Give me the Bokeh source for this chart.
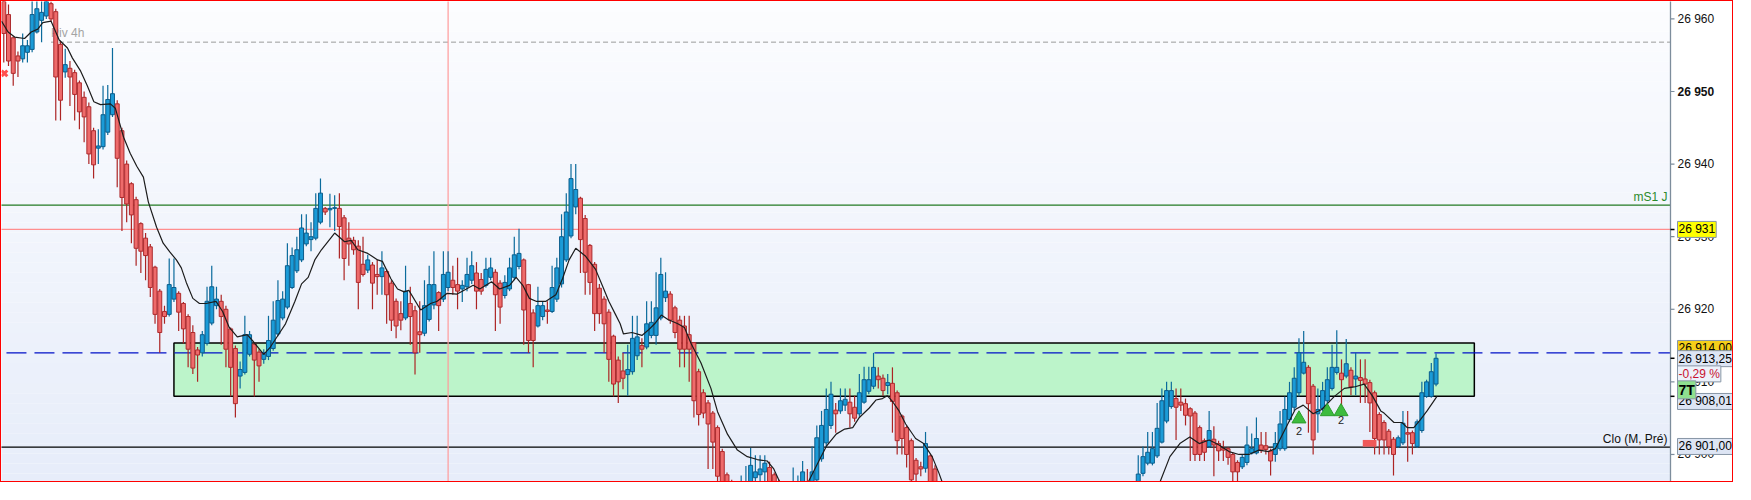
import pandas as pd
from bokeh.plotting import figure
from bokeh.models import Range1d
from bokeh.core.properties import value
from bokeh.embed import file_html
from bokeh.resources import INLINE

BASE = 26900  # all prices below are points above 26 900

# OHLC per bar (None = bar entirely below the visible price range)
opens = [
    63.5, 60.6, 57.4, 54.9, 54.5, 55.4, 55.8, 58.2, 59.8, 60.4,
    62.1, 61.0, 56.5, 52.7, 53.2, 52.6, 51.2, 49.2, 47.9, 44.6,
    42.2, 42.4, 44.4, 46.8, 48.3, 44.6, 40.0, 37.3, 35.1, 31.8,
    29.8, 28.6, 25.8, 22.5, 19.7, 19.3, 21.4, 22.2, 20.8, 19.0,
    16.8, 14.4, 14.0, 15.3, 18.1, 20.5, 21.1, 20.0, 17.3, 14.6,
    10.8, 11.3, 13.8, 15.2, 14.1, 13.1, 13.5, 14.6, 16.6, 18.8,
    20.3, 23.0, 25.3, 26.8, 29.0, 29.6, 29.8, 32.0, 33.9, 33.7,
    33.9, 33.9, 32.6, 29.8, 29.5, 28.7, 26.2, 25.4, 26.1, 24.8,
    24.5, 25.2, 23.6, 21.1, 19.4, 18.8, 20.8, 19.8, 16.9, 16.7,
    18.6, 20.6, 22.3, 21.4, 23.0, 24.0, 23.4, 22.8, 23.1, 24.0,
    25.0, 24.1, 23.3, 24.4, 25.1, 23.6, 21.9, 22.8, 24.4, 25.9,
    26.8, 23.4, 19.5, 17.7, 19.0, 19.9, 19.7, 21.4, 23.5, 26.8,
    30.1, 34.1, 35.3, 32.5, 28.8, 26.2, 22.9, 21.4, 19.6, 16.3,
    13.0, 11.5, 11.0, 11.4, 13.6, 15.0, 14.8, 16.4, 16.4, 18.8,
    21.6, 22.1, 20.2, 18.5, 17.7, 16.5, 15.4, 11.4, 8.5, 7.1,
    5.7, 3.7, 0.4, -2.8, -4.0, None, -9.0, -7.0, -5.0, -3.2,
    -2.8, -2.4, -1.8, -2.8, -3.9, None, None, -7.0, -5.0, -5.0,
    -5.0, -4.1, -3.5, -0.6, 1.6, 4.0, 6.1, 6.0, 6.8, 7.2,
    6.5, 5.6, 7.2, 8.7, 9.4, 10.8, 10.5, 9.5, 9.8, 8.5,
    5.3, 3.7, 1.9, -0.8, -1.7, -1.9, -0.2, -2.0, None, None,
    None, None, None, None, None, None, None, None, None, None,
    None, None, None, None, None, None, None, None, None, None,
    None, None, None, None, None, None, None, None, None, None,
    None, None, None, None, None, None, None, None, None, -8.0,
    -5.0, -2.6, -1.2, -1.2, -0.2, 1.7, 4.6, 6.6, 7.7, 7.2,
    7.0, 6.3, 5.7, 3.7, 1.9, 1.1, 2.1, 1.5, 0.8, 0.8,
    0.0, -1.1, -1.7, -1.1, 0.2, 0.2, 1.3, 1.2, 0.5, 0.0,
    0.8, 0.8, 4.8, 6.5, 8.5, 11.2, 12.0, 9.4, 5.6, 6.3,
    7.4, 9.1, 11.3, 11.2, 10.8, 11.6, 10.4, 10.6, 10.4, 9.9,
    8.5, 5.5, 4.4, 3.2, 2.1, 1.1, 1.6, 3.0, 3.0, 1.1,
    3.3, 8.0, 8.0, 9.7,
]
highs = [
    64.5, 62.0, 57.6, 55.5, 58.0, 57.1, 63.0, 63.5, 62.8, 64.0,
    62.4, 61.4, 57.0, 55.9, 54.2, 53.0, 51.5, 50.0, 48.5, 45.0,
    44.8, 50.8, 50.9, 56.0, 48.8, 45.0, 40.5, 37.5, 35.5, 32.0,
    30.5, 29.0, 26.0, 22.8, 20.5, 27.0, 27.0, 22.5, 21.0, 19.3,
    17.8, 14.8, 17.0, 23.1, 26.0, 23.1, 22.0, 20.5, 17.5, 15.0,
    12.8, 19.1, 17.0, 15.5, 14.5, 14.5, 19.1, 21.1, 24.0, 22.5,
    29.1, 28.5, 30.0, 33.1, 33.1, 32.0, 36.0, 38.0, 34.1, 35.9,
    35.7, 36.0, 33.0, 32.0, 30.0, 29.5, 30.0, 27.5, 26.5, 26.8,
    28.0, 25.5, 24.0, 21.5, 21.1, 26.0, 23.1, 20.5, 21.1, 24.0,
    26.0, 28.0, 22.5, 28.0, 28.0, 26.0, 27.1, 24.0, 27.1, 28.0,
    26.5, 25.0, 27.1, 27.1, 25.5, 24.0, 24.7, 27.1, 30.0, 31.1,
    27.0, 23.5, 20.0, 23.1, 21.0, 21.1, 26.0, 27.1, 33.1, 36.0,
    40.0, 40.0, 35.5, 33.0, 29.0, 26.5, 23.5, 21.8, 20.0, 16.5,
    13.5, 14.0, 15.1, 19.1, 19.1, 16.0, 21.1, 21.1, 25.1, 27.1,
    25.1, 22.5, 20.5, 19.1, 19.1, 19.1, 15.5, 11.8, 9.0, 7.5,
    6.0, 4.0, 0.8, -2.5, -3.5, None, -2.9, -1.6, 0.9, -0.1,
    -0.1, -0.1, -1.0, -2.5, -3.5, None, None, -1.8, -2.9, -0.9,
    -2.0, 1.1, 4.0, 6.0, 9.1, 10.0, 7.1, 9.1, 9.1, 9.1,
    8.1, 11.1, 12.1, 12.1, 14.0, 12.0, 11.0, 11.1, 12.0, 8.8,
    5.5, 4.0, 2.2, -0.5, -1.0, 3.1, 0.0, -1.5, None, None,
    None, None, None, None, None, None, None, None, None, None,
    None, None, None, None, None, None, None, None, None, None,
    None, None, None, None, None, None, None, None, None, None,
    None, None, None, None, None, None, None, None, None, -4.0,
    -0.1, 1.1, 3.1, 3.1, 7.1, 9.1, 10.0, 10.0, 9.1, 9.1,
    7.7, 6.5, 6.0, 4.0, 2.2, 6.0, 3.9, 1.9, 1.9, 1.0,
    0.3, -0.8, 0.0, 3.9, 2.9, 5.1, 3.1, 3.1, 0.8, 3.1,
    6.0, 8.0, 10.0, 12.0, 16.0, 17.0, 12.3, 9.7, 9.1, 10.0,
    12.0, 15.1, 17.1, 13.1, 15.9, 12.0, 14.0, 13.1, 13.1, 10.3,
    8.8, 5.8, 4.7, 3.5, 2.4, 2.6, 6.0, 6.0, 3.3, 4.8,
    10.0, 10.3, 12.6, 13.9,
]
lows = [
    54.0, 53.5, 50.8, 52.0, 54.0, 54.0, 55.4, 58.0, 56.8, 60.0,
    59.6, 46.0, 46.0, 51.9, 48.0, 46.0, 44.8, 43.0, 40.0, 38.0,
    40.0, 42.0, 44.0, 46.5, 36.8, 30.8, 32.0, 29.1, 26.0, 25.0,
    24.0, 21.7, 18.0, 14.0, 18.0, 19.0, 21.0, 17.0, 15.3, 12.0,
    11.1, 10.0, 13.5, 15.0, 17.8, 20.0, 15.1, 12.0, 8.0, 5.1,
    9.1, 11.0, 13.5, 8.0, 10.0, 12.5, 13.0, 14.3, 16.3, 18.5,
    20.0, 22.8, 25.0, 26.5, 28.7, 28.0, 29.5, 31.7, 33.0, 31.3,
    30.8, 27.0, 24.0, 26.0, 27.5, 20.0, 24.5, 25.0, 20.0, 22.0,
    22.0, 18.0, 17.0, 16.0, 17.1, 18.5, 15.1, 11.0, 14.0, 16.3,
    18.3, 20.0, 17.0, 21.0, 22.5, 22.0, 20.0, 21.0, 22.5, 23.5,
    20.0, 22.0, 23.0, 24.0, 17.0, 18.0, 21.5, 22.5, 24.0, 25.5,
    15.1, 14.0, 12.0, 17.5, 18.5, 18.0, 19.5, 21.0, 23.0, 26.5,
    29.8, 33.1, 25.0, 22.0, 22.0, 17.0, 18.0, 14.0, 10.0, 8.0,
    7.1, 9.0, 8.1, 11.0, 13.0, 12.0, 14.5, 16.0, 15.1, 18.5,
    21.0, 18.0, 16.0, 12.0, 12.0, 10.0, 5.1, 4.0, 5.0, -2.0,
    -2.0, -5.0, -8.0, -9.0, -10.0, None, -10.0, -8.0, -7.0, -5.0,
    -4.0, -4.0, -6.0, -7.0, -9.0, None, None, -8.0, -7.0, -6.0,
    -9.0, -5.0, -4.0, -1.0, 1.0, 3.5, 3.0, 5.6, 6.0, 3.7,
    4.5, 5.2, 7.0, 8.3, 9.0, 9.1, 8.1, 8.3, 3.0, 0.0,
    0.0, -1.8, -4.1, -4.1, -3.0, -2.5, -6.0, -7.0, None, None,
    None, None, None, None, None, None, None, None, None, None,
    None, None, None, None, None, None, None, None, None, None,
    None, None, None, None, None, None, None, None, None, None,
    None, None, None, None, None, None, None, None, None, -9.0,
    -6.0, -3.0, -1.5, -1.5, -0.5, 1.5, 4.3, 6.3, 2.0, 6.0,
    4.0, -0.9, -0.9, -0.9, -0.9, 0.9, -3.0, -0.9, -0.9, -1.4,
    -4.0, -4.1, -2.0, -1.5, 0.0, 0.0, 0.2, 0.0, -2.9, -1.0,
    0.5, 0.5, 4.5, 6.0, 8.0, 11.0, 3.0, 0.0, 3.0, 6.0,
    7.0, 8.8, 11.0, 6.4, 10.5, 8.2, 8.2, 7.1, 7.1, 3.1,
    0.0, 0.0, 0.0, 0.0, -2.9, 0.9, 1.3, -1.0, 0.0, 0.9,
    3.0, 7.8, 7.8, 9.4,
]
closes = [
    58.0, 54.2, 52.5, 54.2, 56.3, 56.3, 60.6, 61.4, 60.9, 63.0,
    60.0, 52.0, 48.8, 53.7, 52.0, 49.6, 47.2, 46.5, 41.4, 39.9,
    42.5, 46.8, 48.9, 49.7, 40.8, 35.4, 34.5, 33.0, 28.4, 28.0,
    27.4, 23.0, 19.3, 16.8, 19.0, 23.4, 23.0, 19.6, 17.3, 14.5,
    11.9, 13.7, 16.5, 21.1, 23.1, 21.4, 19.0, 14.5, 12.0, 7.0,
    11.7, 16.5, 16.5, 13.0, 12.2, 13.8, 15.7, 18.5, 21.2, 21.4,
    26.0, 27.4, 28.2, 31.2, 30.5, 30.0, 33.9, 36.0, 33.4, 33.9,
    34.0, 31.4, 27.0, 29.0, 28.2, 23.7, 24.8, 26.8, 23.6, 24.5,
    25.7, 22.0, 18.5, 17.7, 18.5, 22.5, 19.0, 14.0, 16.5, 20.5,
    23.4, 23.4, 20.5, 24.8, 25.1, 23.0, 22.5, 23.3, 24.8, 26.0,
    22.5, 22.5, 25.5, 25.7, 22.0, 20.3, 23.7, 25.7, 27.5, 27.7,
    19.9, 15.7, 15.7, 20.5, 20.5, 19.7, 23.0, 25.7, 30.0, 33.4,
    38.0, 36.5, 29.6, 25.1, 23.7, 19.4, 19.4, 18.0, 13.1, 9.7,
    10.0, 10.5, 11.7, 16.0, 16.2, 14.5, 18.0, 18.2, 20.2, 24.8,
    22.5, 18.5, 16.8, 14.5, 14.5, 14.5, 7.4, 5.5, 5.7, 4.2,
    1.7, -3.0, -6.0, -7.0, -8.0, None, -5.5, -5.0, -1.5, -2.4,
    -2.0, -1.2, -3.8, -5.0, -7.0, None, None, -5.0, -4.0, -2.4,
    -7.0, -2.4, 2.3, 4.0, 6.2, 8.3, 5.6, 7.4, 7.6, 5.6,
    5.0, 8.5, 10.3, 10.3, 12.0, 10.3, 8.8, 9.9, 7.3, 1.9,
    2.2, 0.0, -3.5, -2.7, -2.0, 1.5, -4.5, -5.5, None, None,
    None, None, None, None, None, None, None, None, None, None,
    None, None, None, None, None, None, None, None, None, None,
    None, None, None, None, None, None, None, None, None, None,
    None, None, None, None, None, None, None, None, None, -5.5,
    -2.7, -0.3, 0.3, 0.8, 3.6, 7.4, 8.8, 8.8, 6.5, 6.8,
    5.4, 5.3, 0.0, 0.0, 0.3, 3.3, 1.3, 0.5, 0.6, -0.4,
    -2.4, -2.4, -0.4, 1.3, 0.8, 2.2, 0.6, 0.7, -0.9, 1.5,
    4.2, 6.2, 8.5, 10.5, 14.0, 12.7, 7.0, 2.0, 6.2, 8.8,
    10.3, 12.0, 12.0, 10.3, 12.5, 9.3, 10.8, 10.2, 9.7, 7.1,
    2.2, 2.0, 2.0, 1.1, 0.0, 2.3, 4.3, 2.8, 1.5, 4.5,
    8.5, 10.0, 11.4, 13.25,
]

# moving average line (bar index, points above 26 900)
ma_idx = [
    -0.48, 0.91, 2.31, 4.40, 5.80, 7.20, 8.25, 9.99, 11.73, 13.48,
    14.53, 16.27, 17.67, 19.06, 20.46, 22.56, 23.6, 25.35, 26.74, 28.14,
    29.54, 30.58, 32.33, 33.72, 35.12, 36.52, 37.56, 38.61, 40.0, 41.4,
    42.8, 44.9, 46.3, 47.7, 49.4, 51.5, 52.6, 55.0, 56.4, 58.2,
    59.6, 61.6, 63.0, 64.4, 65.8, 67.2, 70.0, 72.1, 73.5, 74.9,
    77.0, 79.1, 80.1, 81.9, 83.3,
    84.7, 85.7, 88.2, 90.3, 91.7, 93.8, 95.9, 97.3, 99.3, 100.7,
    103.2, 104.9, 107.0, 108.4, 109.8, 111.2, 112.6, 114.7, 116.8, 118.2,
    119.6, 121.0, 123.1, 125.2,
    126.6, 128.0, 129.4, 130.4, 131.1, 132.9, 135.0, 136.3, 137.7, 139.1,
    140.5, 142.6, 144.0, 145.4, 147.5, 149.6, 151.0, 153.1, 155.2, 157.3,
    159.4, 161.5, 162.9, 164.3, 165.3, 167.0,
    169.8, 171.9, 174.0, 176.1, 177.9, 179.6, 181.0, 183.1, 184.5, 185.9,
    186.9, 188.0, 189.4, 190.8, 192.9, 194.6, 196.4, 197.8, 198.8, 200.5,
    242.0, 244.3, 246.7, 248.8, 250.9,
    252.9, 255.0, 257.1, 259.2, 261.3, 263.4, 265.5, 267.6, 269.0, 270.4,
    271.8, 273.2, 274.9, 277.0, 278.8, 281.5, 283.6, 285.7, 287.8, 289.6,
    291.3,
    292.0, 294.1, 295.8, 296.9, 298.3, 299.7, 301.1, 303.2,
]
ma_val = [
    59.7, 58.2, 57.5, 57.3, 58.2, 58.6, 59.5, 59.7, 57.1, 56.0,
    54.6, 52.8, 50.8, 48.6, 48.2, 48.3, 47.7, 43.7, 41.5, 39.7,
    38.2, 34.8, 31.3, 29.1, 27.9, 26.8, 25.7, 23.7, 21.5, 20.8,
    20.8, 21.1, 19.7, 17.5, 16.2, 16.5, 15.7, 13.8, 14.8, 16.6,
    18.0, 21.1, 23.5, 24.4, 26.8, 28.2, 30.5, 29.3, 29.5, 28.2,
    27.7, 26.8, 26.6, 24.2, 22.8,
    22.4, 22.6, 19.9, 20.8, 21.1, 22.2, 22.1, 22.6, 23.3, 22.8,
    23.8, 22.8, 23.3, 24.4, 23.3, 21.5, 21.1, 21.1, 22.0, 24.2,
    26.8, 28.4, 27.3, 25.5,
    23.3, 21.1, 19.3, 18.0, 16.6, 16.8, 16.4, 17.1, 18.0, 19.2,
    18.6, 18.0, 17.5, 15.3, 12.6, 9.1, 5.9, 2.8, 0.6, -0.3,
    -0.7, -0.9, -2.0, -4.0, -5.2, -6.0,
    -4.3, -1.6, 1.1, 2.8, 3.5, 3.7, 5.1, 6.4, 7.5, 7.7,
    8.1, 7.3, 6.0, 4.2, 2.2, 1.5, -0.3, -2.5, -4.3, -7.0,
    -7.0, -4.3, -0.3, 1.5, 2.4,
    1.5, 2.0, 1.3, 0.4, 0.0, 0.0, 0.6, 0.4, 0.8, 2.6,
    4.4, 6.2, 6.8, 5.6, 6.2, 8.0, 9.1, 9.3, 9.7, 8.0,
    6.0,
    5.7, 4.4, 4.4, 3.7, 3.7, 4.8, 6.0, 8.0,
]

# price levels
piv_4h = 26956.8
ms1_j = 26934.35
level_931 = 26931.0
level_914 = 26914.0
clo_prev = 26901.0
zone_bottom, zone_top = 26908.01, 26915.35
zone_left, zone_right = 36.0, 311.1

# signals
tri_x = [274.0, 280.0, 282.9]
tri_y = [26904.9, 26905.9, 26905.9]
tri_lab_x = [274.0, 282.9]
tri_lab_y = [26903.3, 26904.7]
tri_lab = ["2", "2"]

# price scale
tick_values = [26900, 26910, 26920, 26930, 26940, 26950, 26960]
tick_labels = ["26 900", "26 910", "26 920", "26 930", "26 940", "26 950", "26 960"]
tick_styles = ["normal", "normal", "normal", "normal", "normal", "bold", "normal"]

# price boxes on the scale
box_y = [26931.0, 26914.6, 26913.2, 26911.1, 26907.3, 26901.1, 26908.9]
box_text = ["26 931", "26 914,00", "26 913,25", "-0,29 %", "26 908,01", "26 901,00", "7T"]
box_fill = ["#ffff00", "#f5cf1a", "#dde5f4", "#edf1fa", "#dde5f4", "#dde5f4", "#8fe08f"]
box_color = ["black", "black", "black", "#c8102e", "black", "black", "black"]
mark_levels = [26931.0, 26913.25, 26908.01]

W, H = 1733, 482
PLOT_W = 1669                      # chart area width in px, the price scale is right of it
X0, X1 = -0.48, 352.6
UX = (X1 - X0) / PLOT_W            # bar units per pixel
XR = X0 + W * UX
Y0, Y1 = 26896.0, 26962.4
UY = (Y1 - Y0) / H
FONT = "Liberation Sans"

df = pd.DataFrame({"o": opens, "h": highs, "l": lows, "c": closes})
df["x"] = range(len(df))
df = df.dropna()
for col in ["o", "h", "l", "c"]:
    df[col] = df[col] + BASE
df["top"] = df[["o", "c"]].max(axis=1)
df["bot"] = df[["o", "c"]].min(axis=1)
up = df[df.c >= df.o]
down = df[df.c < df.o]

p = figure(width=W, height=H, x_range=Range1d(X0, XR), y_range=Range1d(Y0, Y1),
           x_axis_location=None, y_axis_location=None,
           toolbar_location=None, output_backend="svg",
           min_border=0, background_fill_color="white", border_fill_color="white",
           outline_line_color=None, styles={"border": "1px solid #ff0000"})
p.grid.visible = False

# vertical gradient of the chart background
n = 48
bl, bt, cols = [], [], []
for k in range(n):
    bl.append(Y0 + (Y1 - Y0) * k / n)
    bt.append(Y0 + (Y1 - Y0) * (k + 1) / n)
    t = k / (n - 1)
    r = int(231 + (252 - 231) * t)
    g = int(237 + (253 - 237) * t)
    b = int(250 + (255 - 250) * t)
    cols.append("#%02x%02x%02x" % (r, g, b))
p.quad(left=X0 - 1, right=X1, bottom=bl, top=bt, fill_color=cols, line_color=None)

# green zone
p.quad(left=[zone_left], right=[zone_right], bottom=[zone_bottom], top=[zone_top],
       fill_color="#bcf4ca", line_color="black", line_width=1.5)

# horizontal levels
p.segment(x0=10, y0=piv_4h, x1=X1, y1=piv_4h, line_color="#9a9a9a", line_width=1, line_dash="5 3")
p.segment(x0=X0 - 1, y0=ms1_j, x1=X1, y1=ms1_j, line_color="#237a23", line_width=1.2)
p.segment(x0=X0 - 1, y0=level_931, x1=X1, y1=level_931, line_color="#ff8e8e", line_width=1.2)
p.segment(x0=X0 - 1, y0=clo_prev, x1=X1, y1=clo_prev, line_color="black", line_width=1.3)
p.segment(x0=0.57, y0=level_914, x1=X1, y1=level_914, line_color="#0010c8", line_width=1.3, line_dash="20 8")
# vertical marker line
p.segment(x0=94.0, y0=Y0 - 5, x1=94.0, y1=Y1 + 5, line_color="#ff9a9a", line_width=1.2)

p.text(x=[10], y=[piv_4h + 0.3], text=["Piv 4h"], text_font=value(FONT), text_font_size="12px",
       text_color="#a4a4a4", text_baseline="bottom", text_align="left")

# candles
p.segment(x0="x", y0="l", x1="x", y1="h", source=up, line_color="#0b6b9c", line_width=1.2)
p.segment(x0="x", y0="l", x1="x", y1="h", source=down, line_color="#ac2424", line_width=1.2)
p.vbar(x="x", width=0.84, top="top", bottom="bot", source=up,
       fill_color="#1b9bd7", line_color="#0b5d8c", line_width=1)
p.vbar(x="x", width=0.84, top="top", bottom="bot", source=down,
       fill_color="#ee6b6b", line_color="#ad2a2d", line_width=1)

p.line(ma_idx, [BASE + v for v in ma_val], line_color="#1c1c1c", line_width=1.2)

# signals
p.scatter(x=tri_x, y=tri_y, marker="triangle", size=14, fill_color="#3dbb3d", line_color="#2d9d2d")
p.text(x=tri_lab_x, y=tri_lab_y, text=tri_lab, text_font=value(FONT), text_font_size="11px",
       text_color="#222222", text_align="center", text_baseline="middle")
p.quad(left=[287.5], right=[290.4], bottom=[26901.07], top=[26902.0], fill_color="#ef5959", line_color=None)
p.scatter(x=[0.15], y=[26952.5], marker="x", size=8, line_color="#ff5050", line_width=3)

# line captions
p.text(x=[X1 - 3 * UX, X1 - 3 * UX], y=[ms1_j + UY, clo_prev + UY], text=["mS1 J", "Clo (M, Pré)"],
       text_font=value(FONT), text_font_size="12px", text_color=["#2b8a2b", "#111111"],
       text_align="right", text_baseline="bottom")

# price scale on the right
p.segment(x0=X1, y0=Y0 - 5, x1=X1, y1=Y1 + 5, line_color="#7d8d9c", line_width=1.3)
p.segment(x0=X1, y0=tick_values, x1=X1 + 4 * UX, y1=tick_values, line_color="#7d8d9c", line_width=1.2)
p.text(x=X1 + 7 * UX, y=tick_values, text=tick_labels, text_font=value(FONT), text_font_size="12px",
       text_font_style=tick_styles, text_color="#111111", text_align="left", text_baseline="middle")
p.segment(x0=X1, y0=mark_levels, x1=X1 + 4 * UX, y1=mark_levels, line_color="black", line_width=1.5)
p.text(x=X1 + 7 * UX, y=box_y, text=box_text, text_font=value(FONT),
       text_font_size=["12px"] * 6 + ["14px"],
       text_font_style=["normal"] * 6 + ["bold"],
       text_color=box_color, text_align="left", text_baseline="middle",
       background_fill_color=box_fill, border_line_color="#8796a6", border_line_width=1,
       padding=1)

open("out.html", "w").write(file_html(p, INLINE))
